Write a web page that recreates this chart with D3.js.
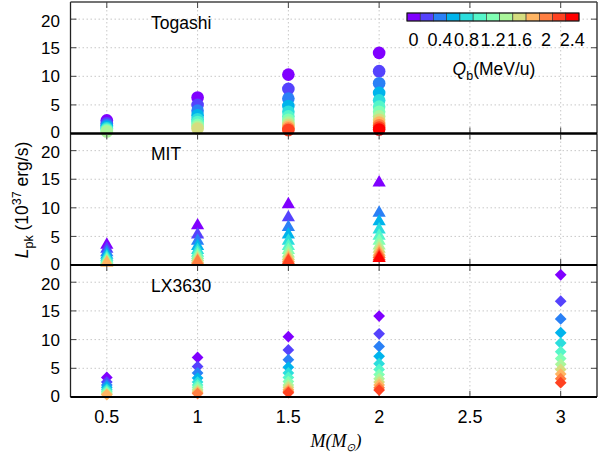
<!DOCTYPE html>
<html>
<head>
<meta charset="utf-8">
<script src="https://cdn.jsdelivr.net/npm/d3@7"></script>
<style>
  body { margin: 0; background: #fff; }
  text { font-family: "Liberation Sans", Arial, sans-serif; fill: #000; }
</style>
</head>
<body>
<svg id="chart" width="598" height="460"></svg>
<script>
// data
var massTicks = [0.5, 1, 1.5, 2, 2.5, 3];
var lumTicks = [0, 5, 10, 15, 20];
var qValues = [0, 0.2, 0.4, 0.6, 0.8, 1.0, 1.2, 1.4, 1.6, 1.8, 2.0, 2.2, 2.4];
var cbLabels = [0, 0.4, 0.8, 1.2, 1.6, 2, 2.4];

var togashiMass = [0.5, 1, 1.5, 2];
var togashiL = [
  [2.3, 1.8, 1.45, 1.15, 0.9, 0.7, 0.5, 0.35],
  [6.3, 5.0, 4.0, 3.2, 2.5, 2.0, 1.5, 1.15, 0.85],
  [10.3, 7.8, 6.1, 4.8, 3.8, 3.0, 2.4, 1.9, 1.5, 1.15, 0.85, 0.6],
  [14.1, 10.9, 8.8, 7.1, 5.8, 4.7, 3.8, 3.0, 2.4, 1.9, 1.45, 1.05, 0.7]
];

var mitMass = [0.5, 1, 1.5, 2];
var mitL = [
  [3.5, 2.8, 2.2, 1.75, 1.4, 1.1, 0.85, 0.65, 0.5, 0.35],
  [6.9, 5.3, 4.2, 3.3, 2.6, 2.1, 1.7, 1.35, 1.05, 0.8, 0.6],
  [10.6, 8.3, 6.6, 5.3, 4.2, 3.3, 2.6, 2.0, 1.55, 1.2, 0.9, 0.65],
  [14.4, null, 9.1, 7.6, 6.2, 5.1, 4.2, 3.4, 2.8, 2.3, 1.9, 1.5, 1.2]
];

var lxMass = [0.5, 1, 1.5, 2, 3];
var lxL = [
  [3.4, 2.6, 2.1, 1.7, 1.35, 1.05, 0.85, 0.65, 0.5, 0.4],
  [6.9, 5.3, 4.2, 3.3, 2.6, 2.1, 1.7, 1.35, 1.05, 0.8, 0.6],
  [10.5, 8.2, 6.5, 5.2, 4.2, 3.4, 2.7, 2.1, 1.7, 1.3, 1.0, 0.75],
  [14.1, 11.0, 8.8, 7.1, 5.8, 4.8, 3.9, 3.2, 2.6, 2.1, 1.6, 1.2],
  [21.3, 16.7, 13.6, 11.2, 9.4, 7.9, 6.7, 5.7, 4.8, 4.0, 3.2, 2.5]
];

var panels = [
  {name: "Togashi", mass: togashiMass, lum: togashiL, symbol: d3.symbolCircle, size: 125},
  {name: "MIT", mass: mitMass, lum: mitL, symbol: d3.symbolTriangle, size: 76},
  {name: "LX3630", mass: lxMass, lum: lxL, symbol: d3.symbolDiamond2, size: 88}
];

// matplotlib style "rainbow"
function rainbow(t) {
  var r = Math.min(1, Math.abs(2 * t - 0.5));
  var g = Math.sin(Math.PI * t);
  var b = Math.cos(Math.PI * t / 2);
  return d3.rgb(r * 255, g * 255, Math.max(0, b) * 255).formatHex();
}
var qColor = function(q) { return rainbow(q / 2.4); };

var svg = d3.select("#chart");
var left = 70.5, right = 597;
var panelEdges = [2, 133.5, 265, 397];

var x = d3.scaleLinear().domain([0.3, 3.2]).range([left, right]);

panels.forEach(function(p, k) {
  var top = panelEdges[k], bottom = panelEdges[k + 1];
  var y = d3.scaleLinear().domain([0, 23]).range([bottom, top]);
  var g = svg.append("g");

  // dotted grid
  g.selectAll("line.vg").data(massTicks).enter().append("line")
    .attr("x1", d => x(d)).attr("x2", d => x(d))
    .attr("y1", top).attr("y2", bottom)
    .attr("stroke", "#c8c8c8").attr("stroke-dasharray", "1.5,2.5");
  g.selectAll("line.hg").data(lumTicks.slice(1)).enter().append("line")
    .attr("x1", left).attr("x2", right)
    .attr("y1", d => y(d)).attr("y2", d => y(d))
    .attr("stroke", "#c8c8c8").attr("stroke-dasharray", "1.5,2.5");

  // ticks (inward, mirrored)
  massTicks.forEach(function(m) {
    g.append("line").attr("x1", x(m)).attr("x2", x(m)).attr("y1", top).attr("y2", top + 6)
      .attr("stroke", "#444");
    g.append("line").attr("x1", x(m)).attr("x2", x(m)).attr("y1", bottom).attr("y2", bottom - 6)
      .attr("stroke", "#444");
  });
  lumTicks.forEach(function(v) {
    g.append("line").attr("x1", left).attr("x2", left + 6).attr("y1", y(v)).attr("y2", y(v))
      .attr("stroke", "#444");
    g.append("line").attr("x1", right).attr("x2", right - 6).attr("y1", y(v)).attr("y2", y(v))
      .attr("stroke", "#444");
  });

  // y tick labels (the 0 of one panel sits right under the 20 of the next)
  g.selectAll("text.yt").data(lumTicks).enter().append("text")
    .attr("x", 60).attr("y", d => y(d) + (d === 0 ? -1.5 : d === 20 ? 1.5 : 0))
    .attr("dy", "0.36em")
    .attr("text-anchor", "end").attr("font-size", 17)
    .text(d => d);

  // points, purple first so red ends up on top
  p.mass.forEach(function(m, i) {
    p.lum[i].forEach(function(v, j) {
      if (v === null) return;
      g.append("path")
        .attr("d", d3.symbol().type(p.symbol).size(p.size)())
        .attr("transform", "translate(" + x(m) + "," + y(v) + ")")
        .attr("fill", qColor(qValues[j]));
    });
  });

  g.append("text").attr("x", 151).attr("y", top + [26.5, 26, 27.3][k])
    .attr("font-size", 17.5).text(p.name);

  // frame
  g.append("line").attr("x1", left).attr("x2", left).attr("y1", top).attr("y2", bottom)
    .attr("stroke", "#222").attr("stroke-width", 1.3);
  g.append("line").attr("x1", right).attr("x2", right).attr("y1", top).attr("y2", bottom)
    .attr("stroke", "#222").attr("stroke-width", 1.3);
  g.append("line").attr("x1", left).attr("x2", right).attr("y1", top).attr("y2", top)
    .attr("stroke", k == 0 ? "#444" : "#000").attr("stroke-width", k == 0 ? 1.5 : 2.2);
  g.append("line").attr("x1", left).attr("x2", right).attr("y1", bottom).attr("y2", bottom)
    .attr("stroke", "#000").attr("stroke-width", 2.2);
});

// x tick labels
svg.selectAll("text.xt").data(massTicks).enter().append("text")
  .attr("x", d => x(d)).attr("y", 423)
  .attr("text-anchor", "middle").attr("font-size", 18)
  .text(d => d);

// x title
var xt = svg.append("text").attr("x", 336).attr("y", 447).attr("text-anchor", "middle")
  .style("font-family", "'Liberation Serif', 'Times New Roman', serif")
  .attr("font-size", 18).attr("font-style", "italic");
xt.append("tspan").text("M(M");
xt.append("tspan").attr("dy", 4).attr("font-size", 11).text("\u2299");
xt.append("tspan").attr("dy", -4).text(")");

// y title
var yt = svg.append("text").attr("transform", "translate(28,200) rotate(-90)")
  .attr("text-anchor", "middle").attr("font-size", 17.5);
yt.append("tspan").attr("font-style", "italic").text("L");
yt.append("tspan").attr("dy", 5).attr("font-size", 12.5).text("pk");
yt.append("tspan").attr("dy", -5).text(" (10");
yt.append("tspan").attr("dy", -7).attr("font-size", 12.5).text("37");
yt.append("tspan").attr("dy", 7).text(" erg/s)");

// colour bar
var cb = d3.scaleLinear().domain([-0.1, 2.5]).range([407, 579]);
var cbg = svg.append("g");
cbg.selectAll("rect").data(qValues).enter().append("rect")
  .attr("x", d => cb(d - 0.1)).attr("width", cb(0.1) - cb(-0.1))
  .attr("y", 13).attr("height", 8)
  .attr("fill", d => qColor(d))
  .attr("stroke", "#333").attr("stroke-width", 0.6);
cbg.append("rect").attr("x", 407).attr("y", 13).attr("width", 172).attr("height", 8)
  .attr("fill", "none").attr("stroke", "#111").attr("stroke-width", 1);
cbg.selectAll("text").data(cbLabels).enter().append("text")
  .attr("x", d => cb(d)).attr("y", 45.5)
  .attr("text-anchor", "middle").attr("font-size", 18)
  .text(d => d);
var ql = svg.append("text").attr("x", 494).attr("y", 75).attr("text-anchor", "middle")
  .attr("font-size", 17.5);
ql.append("tspan").attr("font-style", "italic").text("Q");
ql.append("tspan").attr("dy", 5).attr("font-size", 12.5).text("b");
ql.append("tspan").attr("dy", -5).text("(MeV/u)");
</script>
</body>
</html>
